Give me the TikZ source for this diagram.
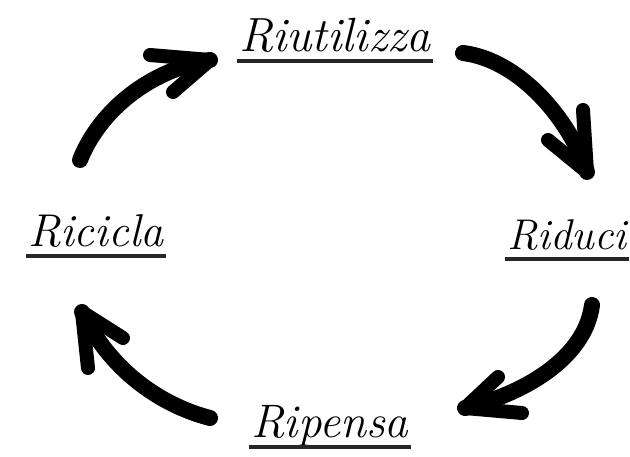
\documentclass[tikz,border=0pt]{standalone}
\usetikzlibrary{calc}
\begin{document}
\begin{tikzpicture}[x=1pt,y=-1pt,
  lbl/.style={font=\fontsize{#1}{#1}\selectfont\itshape, inner sep=0pt, anchor=base},
  uline/.style={line width=3.2pt, black!85},
  shaft/.style={line width=16pt, line cap=round},
  barb/.style={line width=14pt, line cap=round, line join=round}]
\useasboundingbox (0,0) rectangle (630,457);
% labels
\node[lbl=48] (reuse)   at (335,52)  {Riutilizza};
\node[lbl=43] (reduce)  at (567,250) {Riduci};
\node[lbl=47] (rethink) at (330,438) {Ripensa};
\node[lbl=46] (recycle) at (96,247)  {Ricicla};
\foreach \n in {reuse,reduce,rethink,recycle}
  \draw[uline] ($(\n.base west)+(-2,9)$) -- ($(\n.base east)+(2,9)$);
% arrow coordinates
\coordinate (tlA) at (80,160);  \coordinate (tlB) at (210,60);
\coordinate (tl1) at (150,55);  \coordinate (tl2) at (173,92);
\coordinate (trA) at (463,53);  \coordinate (trB) at (587,172);
\coordinate (tr1) at (583,110); \coordinate (tr2) at (548,140);
\coordinate (brA) at (592,305); \coordinate (brB) at (465,408);
\coordinate (br1) at (498,377); \coordinate (br2) at (522,413);
\coordinate (blA) at (210,418); \coordinate (blB) at (82,312);
\coordinate (bl1) at (88,368);  \coordinate (bl2) at (123,338);
% shafts
\draw[shaft] (tlA) .. controls (100,110) and (150,70) .. (tlB);
\draw[shaft] (trA) .. controls (520,60) and (570,120) .. (trB);
\draw[shaft] (brA) .. controls (585,360) and (520,395) .. (brB);
\draw[shaft] (blA) .. controls (160,405) and (110,370) .. (blB);
% heads
\draw[barb] (tl1) -- (tlB) -- (tl2);
\draw[barb] (tr1) -- (trB) -- (tr2);
\draw[barb] (br1) -- (brB) -- (br2);
\draw[barb] (bl1) -- (blB) -- (bl2);
\end{tikzpicture}
\end{document}
